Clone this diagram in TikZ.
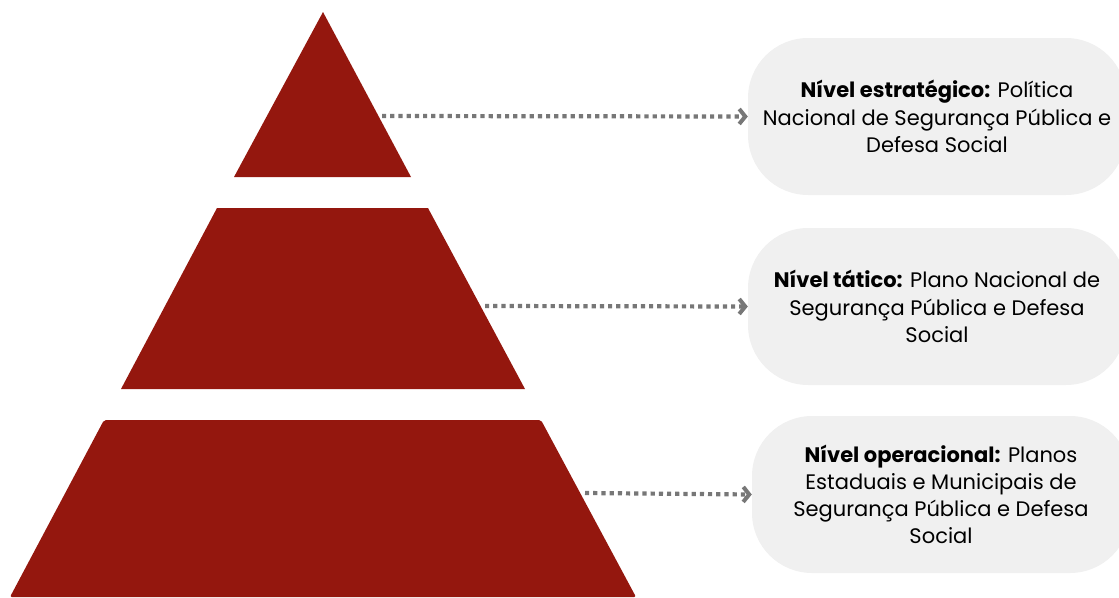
\documentclass[tikz,border=0pt]{standalone}
\usepackage{fontspec}
\setmainfont{Poppins}
\usetikzlibrary{arrows.meta}
\definecolor{vinho}{HTML}{94170E}
\definecolor{caixa}{HTML}{F0F0F0}
\definecolor{seta}{HTML}{777777}
\tikzset{
  nivelbox/.style={fill=caixa,rounded corners=60pt,minimum width=378pt,
    minimum height=157pt,align=center,inner sep=0pt,
    font=\fontsize{21}{27.2}\selectfont},
  ligacao/.style={seta,line width=4.2pt,dash pattern=on 4.2pt off 4pt,
    -{Straight Barb[length=6pt,width=15pt,line width=4pt]}}
}
\newcommand{\camada}[1]{\fill[vinho] #1 -- cycle;}

\begin{document}
\begin{tikzpicture}[x=1pt,y=-1pt]
  \clip (0,0) rectangle (1119,597);
  \useasboundingbox (0,0) rectangle (1119,597);

  % piramide
  \camada{(323,12) -- (411,177) -- (234,177)}
  \camada{(217,208) -- (428,208) -- (525,389) -- (121,389)}
  \begin{scope}[rounded corners=2pt]
    \camada{(104,420) -- (541,420) -- (636,597) -- (10,597)}
  \end{scope}

  % pontos de saida
  \coordinate (estr) at (382,116);
  \coordinate (tat) at (485,306);
  \coordinate (oper) at (585,493);

  % caixas
  \node[nivelbox] (nestr) at (937,116.5)
    {\textbf{Nível estratégico:} Política\\
     Nacional de Segurança Pública e\\
     Defesa Social};
  \node[nivelbox] (ntat) at (937,306.5)
    {\textbf{Nível tático:} Plano Nacional de\\
     Segurança Pública e Defesa\\
     Social};
  \node[nivelbox] (noper) at (941,494.5)
    {\textbf{Nível operacional:} Planos\\
     Estaduais e Municipais de\\
     Segurança Pública e Defesa\\
     Social};

  % setas
  \draw[ligacao] (estr) -- (nestr.west);
  \draw[ligacao] (tat) -- (ntat.west);
  \draw[ligacao] (oper) -- (noper.west);
\end{tikzpicture}
\end{document}
